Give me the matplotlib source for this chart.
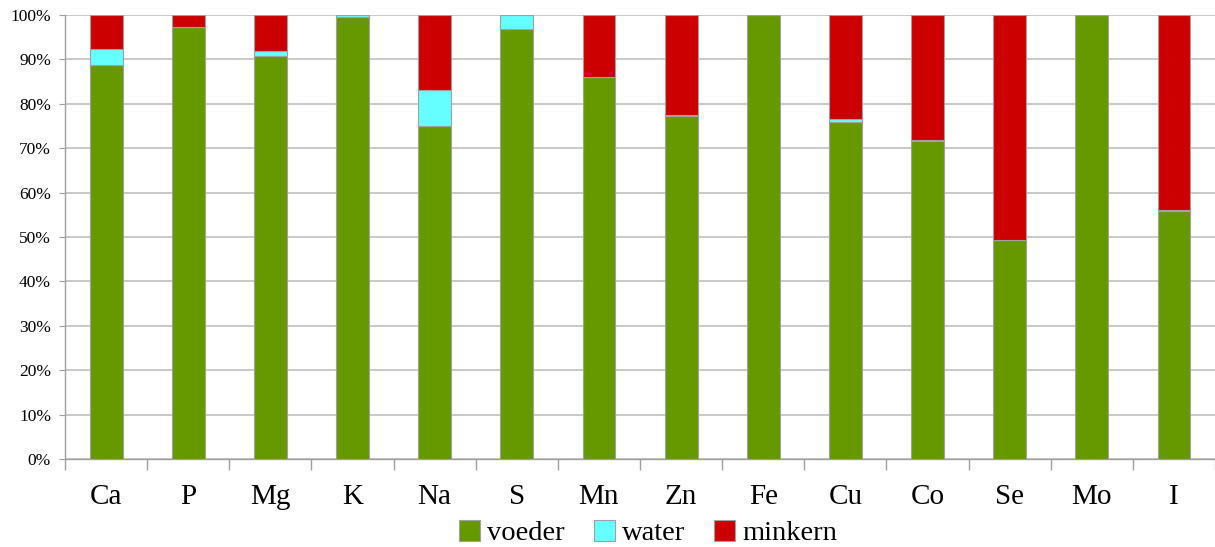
import matplotlib
matplotlib.use("Agg")
import matplotlib.pyplot as plt
import numpy as np
from matplotlib.ticker import FixedLocator, FuncFormatter

# --- data (share of each source, %) ---
elements = ["Ca", "P", "Mg", "K", "Na", "S", "Mn", "Zn", "Fe", "Cu", "Co", "Se", "Mo", "I"]
voeder = [88.7, 97.2, 90.8, 99.6, 75.0, 96.8, 86.0, 77.3, 100.0, 75.8, 71.6, 49.3, 99.9, 55.8]
water = [3.6, 0.0, 1.1, 0.4, 8.1, 3.2, 0.0, 0.2, 0.0, 0.8, 0.3, 0.0, 0.1, 0.3]
minkern = [7.7, 2.8, 8.1, 0.0, 16.9, 0.0, 14.0, 22.5, 0.0, 23.4, 28.1, 50.7, 0.0, 43.9]

series_names = ["voeder", "water", "minkern"]
series_colors = ["#669900", "#66ffff", "#cc0000"]

plt.rcParams["font.family"] = ["Liberation Serif", "DejaVu Serif"]

fig = plt.figure(figsize=(12.15, 5.47), dpi=100)
ax = fig.add_axes([65 / 1215, 1 - 459 / 547, 1 - 65 / 1215, (459 - 15) / 547])

x = np.arange(len(elements))
bottom = np.zeros(len(elements))
for name, vals, col in zip(series_names, [voeder, water, minkern], series_colors):
    vals = np.array(vals)
    ax.bar(x, vals, width=0.4, bottom=bottom, color=col, edgecolor="#a0a0a0",
           linewidth=0.8, label=name, zorder=3)
    bottom += vals

# axes styling
ax.set_xlim(-0.5, len(elements) - 0.5)
ax.set_ylim(0, 100)
ax.set_yticks(np.arange(0, 101, 10))
ax.yaxis.set_major_formatter(FuncFormatter(lambda v, p: f"{int(v)}%"))
ax.yaxis.grid(True, color="#c0c0c0", linewidth=1.2, zorder=0)
ax.tick_params(axis="y", labelsize=12.5, length=4, color="#a0a0a0", pad=6)

ax.set_xticks(x)
ax.set_xticklabels(elements, fontsize=21)
ax.tick_params(axis="x", which="major", length=0, pad=18)
ax.xaxis.set_minor_locator(FixedLocator(np.arange(len(elements) + 1) - 0.5))
ax.tick_params(axis="x", which="minor", length=8, color="#a0a0a0", width=1)

for side in ["top", "right"]:
    ax.spines[side].set_visible(False)
for side in ["left", "bottom"]:
    ax.spines[side].set_color("#a0a0a0")
    ax.spines[side].set_linewidth(1)

handles, labels = ax.get_legend_handles_labels()
fig.legend(handles, labels, loc="center", bbox_to_anchor=(648 / 1215, 1 - 533 / 547),
           ncol=3, frameon=False, fontsize=20.5, handlelength=0.75, handleheight=0.75,
           handletextpad=0.25, columnspacing=1.0, borderpad=0)

fig.savefig("out.png", dpi=100)
